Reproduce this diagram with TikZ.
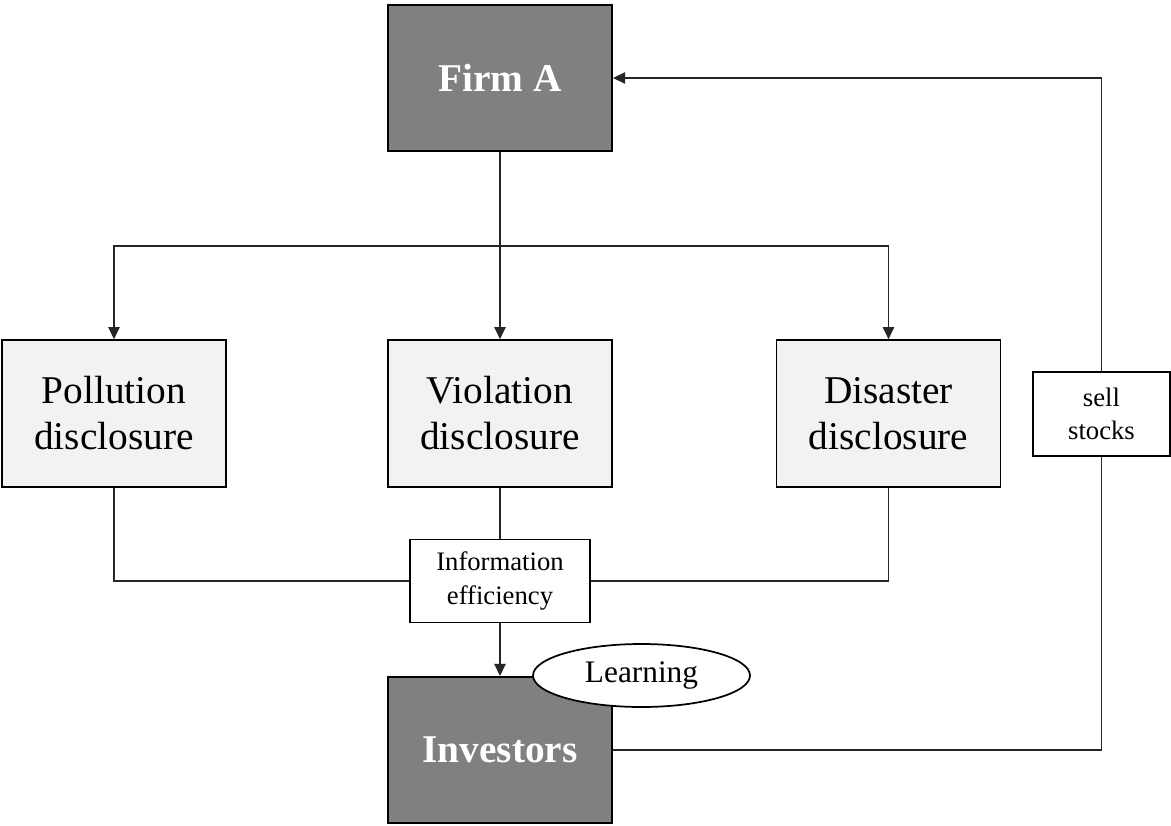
\documentclass[tikz,border=0pt]{standalone}
\usepackage{fontspec}
\setmainfont{Liberation Serif}
\usetikzlibrary{arrows.meta,shapes.geometric}

\tikzset{
  darkbox/.style={draw=black, line width=1.6pt, fill=black!50, text=white,
    minimum width=224*0.75pt, minimum height=146*0.75pt, inner sep=0pt,
    font=\fontsize{29.5}{34}\selectfont\bfseries},
  discbox/.style={draw=black, line width=1.3pt, fill=black!5,
    minimum width=224*0.75pt, minimum height=147*0.75pt, inner sep=0pt,
    align=center, font=\fontsize{29.5}{34.5}\selectfont},
  smallbox/.style={draw=black, line width=1.3pt, fill=white, inner sep=0pt,
    align=center, font=\fontsize{20}{25}\selectfont},
  learnoval/.style={draw=black, line width=1.3pt, fill=white, ellipse, inner sep=0pt,
    minimum width=217*0.75pt, minimum height=63*0.75pt,
    font=\fontsize{23.5}{27}\selectfont},
  conn/.style={draw=black!85, line width=0.8pt},
  arr/.style={conn, -{Triangle[length=9pt,width=8.5pt]}},
}

\begin{document}
\begin{tikzpicture}[x=0.75pt,y=-0.75pt]
  \useasboundingbox (0,0) rectangle (1171,825);

  % main actors
  \node[darkbox] (firm) at (500,78) {Firm A};
  \node[darkbox] (inv) at (500,750) {Investors};

  % three disclosure channels
  \node[discbox] (poll) at (114,413.5) {Pollution\\disclosure};
  \node[discbox] (viol) at (500,413.5) {Violation\\disclosure};
  \node[discbox] (dis) at (888.5,413.5) {Disaster\\disclosure};

  % intermediate boxes
  \node[smallbox, minimum width=180*0.75pt, minimum height=83*0.75pt] (info) at (500,581) {Information\\efficiency};
  \node[smallbox, minimum width=137*0.75pt, minimum height=84*0.75pt] (sell) at (1101.5,414) {sell\\stocks};

  % branching from the firm to the disclosures
  \coordinate (fork) at (500,246);
  \draw[conn] (firm.south) -- (fork);
  \draw[arr] (fork) -| (poll.north);
  \draw[arr] (fork) -- (viol.north);
  \draw[arr] (fork) -| (dis.north);

  % disclosures merging into information efficiency
  \draw[conn] (poll.south) |- (info.west);
  \draw[conn] (viol.south) -- (info.north);
  \draw[conn] (dis.south) |- (info.east);
  \draw[arr] (info.south) -- (inv.north);

  % feedback loop through selling
  \draw[conn] (inv.east) -| (sell.south);
  \draw[arr] (sell.north) |- (firm.east);

  % learning tag on the investors box
  \node[learnoval] (learn) at (641.5,675.5) {Learning};
\end{tikzpicture}
\end{document}
